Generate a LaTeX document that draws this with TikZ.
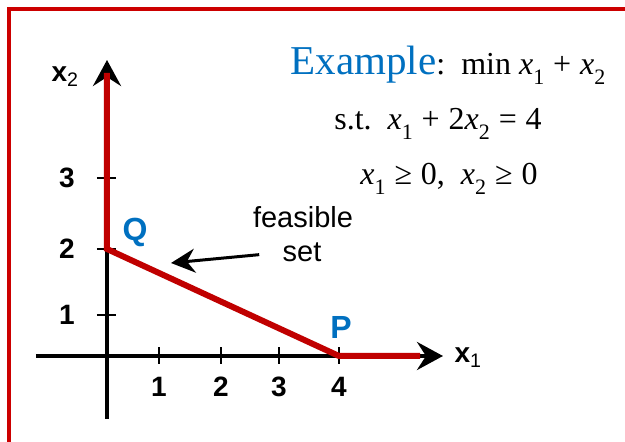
\documentclass[tikz,border=0pt]{standalone}
\usepackage{fontspec}
\setmainfont{Liberation Sans}
\newfontfamily\timesfont{Liberation Serif}
\usetikzlibrary{arrows.meta}
\definecolor{LpFrame}{HTML}{CC0000}
\definecolor{LpFeasible}{HTML}{C00000}
\definecolor{LpBlue}{HTML}{0070C0}
\newcommand{\xsub}[1]{\textit{x}\raisebox{-0.3em}{\fontsize{22pt}{22pt}\selectfont #1}}

\begin{document}
\begin{tikzpicture}[x=1pt,y=1pt,
    axis/.style={line width=4pt,-{Stealth[length=26pt,width=28pt,inset=9pt]}},
    ticklab/.style={font=\bfseries\fontsize{28pt}{28pt}\selectfont},
    corner/.style={text=LpBlue,font=\bfseries\fontsize{32pt}{32pt}\selectfont},
    lptext/.style={anchor=base,font=\timesfont\fontsize{32pt}{32pt}\selectfont}]
    \useasboundingbox (-107,-86) rectangle (518,356);
    \draw[LpFrame,line width=3.5pt] (-98,-86) -- (-98,347) -- (518,347);

    % axes
    \coordinate (O) at (0,0);
    \coordinate (xa) at (-71,0);
    \coordinate (xb) at (336,0);
    \coordinate (ya) at (0,-63);
    \coordinate (yb) at (0,296);
    \draw[axis] (xa) -- (xb);
    \draw[axis] (ya) -- (yb);
    \foreach \x/\lab in {52/1,114/2,172/3,232/4} {
      \draw[line width=2.5pt] (\x,-8) -- (\x,9);
      \node[ticklab] (xt\lab) at (\x,-31) {\lab};
    }
    \foreach \y/\lab in {41/1,107/2,178/3} {
      \draw[line width=2.5pt] (-10,\y) -- (9,\y);
      \node[ticklab] (yt\lab) at (-40,\y) {\lab};
    }
    \node[font=\bfseries\fontsize{28pt}{28pt}\selectfont] (xlab) at (361,-2) {x\textsubscript{\mdseries 1}};
    \node[font=\bfseries\fontsize{28pt}{28pt}\selectfont] (ylab) at (-42,279) {x\textsubscript{\mdseries 2}};

    % feasible set
    \coordinate (top) at (0,283);
    \coordinate (Q) at (0,107);
    \coordinate (P) at (232,0);
    \coordinate (end) at (313,0);
    \draw[LpFeasible,line width=6pt] (top) -- (Q) -- (P) -- (end);
    \node[corner] (qlab) at (28,124) {Q};
    \node[corner] (plab) at (234,29) {P};

    \node[anchor=base,font=\fontsize{29pt}{29pt}\selectfont] (feas) at (196,128) {feasible};
    \node[anchor=base,font=\fontsize{29pt}{29pt}\selectfont] (set) at (195,94) {set};
    \coordinate (tip) at (64,93);
    \draw[line width=3pt,-{Stealth[length=24pt,width=24pt,inset=8pt]},shorten <=20pt] (set.west) -- (tip);

    % problem
    \node[lptext] (obj) at (341,281) {{\fontsize{41pt}{41pt}\selectfont\color{LpBlue}Example}:\ \ min \xsub{1}\;+\;\xsub{2}};
    \node[lptext] (st) at (331,226) {s.t.\ \ \xsub{1}\;+\;2\xsub{2}\;=\;4};
    \node[lptext] (nonneg) at (342,171) {\xsub{1}\;≥\;0,\ \ \xsub{2}\;≥\;0};
\end{tikzpicture}
\end{document}
